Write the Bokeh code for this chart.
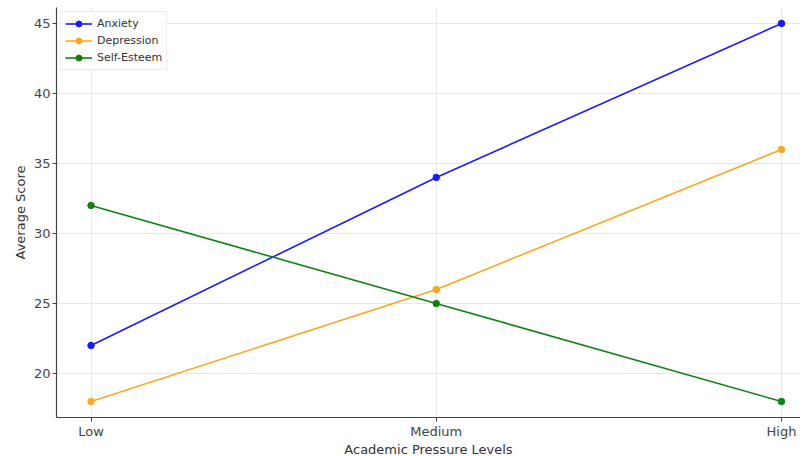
from bokeh.plotting import figure
from bokeh.models import Range1d, FixedTicker, Legend, LegendItem
from bokeh.embed import file_html
from bokeh.resources import INLINE

categories = ["Low", "Medium", "High"]
anxiety = [22, 34, 45]
depression = [18, 26, 36]
self_esteem = [32, 25, 18]
y_ticks = [20, 25, 30, 35, 40, 45]

xs = list(range(len(categories)))

p = figure(frame_width=744, frame_height=410, output_backend="svg", toolbar_location=None,
           x_range=Range1d(-0.1, 2.055), y_range=Range1d(16.857, 46.14),
           min_border_left=56, min_border_right=0, min_border_top=7, min_border_bottom=30)
p.outline_line_color = None
p.background_fill_color = "white"

font = "DejaVu Sans"
for ax in (p.xaxis[0], p.yaxis[0]):
    ax.major_label_text_font = font
    ax.major_label_text_font_size = "13px"
    ax.major_label_text_color = "#444444"
    ax.axis_label_text_font = font
    ax.axis_label_text_font_size = "13px"
    ax.axis_label_text_font_style = "normal"
    ax.axis_label_text_color = "#333333"
    ax.axis_line_color = "#444444"
    ax.axis_line_width = 1.2
    ax.major_tick_line_color = "#444444"
    ax.major_tick_out = 4
    ax.major_tick_in = 0
    ax.minor_tick_line_color = None

p.xaxis.ticker = FixedTicker(ticks=xs)
p.xaxis.major_label_overrides = {i: c for i, c in enumerate(categories)}
p.xaxis.axis_label = "Academic Pressure Levels"
p.xaxis.axis_label_standoff = 0
p.xaxis.major_label_standoff = 2
p.yaxis.ticker = FixedTicker(ticks=y_ticks)
p.yaxis.axis_label = "Average Score"
p.yaxis.axis_label_standoff = 3
p.yaxis.major_label_standoff = 2

p.xgrid.grid_line_color = "#e8e8e8"
p.ygrid.grid_line_color = "#e8e8e8"
p.xgrid.ticker = FixedTicker(ticks=xs)
p.ygrid.ticker = FixedTicker(ticks=y_ticks)

series = [("Anxiety", anxiety, "#1a1aff"), ("Depression", depression, "#f9a825"),
          ("Self-Esteem", self_esteem, "#118011")]
items = []
for name, vals, col in series:
    l = p.line(xs, vals, line_color=col, line_width=1.6)
    c = p.scatter(xs, vals, size=6.5, fill_color=col, line_color=col)
    items.append(LegendItem(label=name, renderers=[l, c]))

legend = Legend(items=items, location="top_left")
legend.label_text_font = font
legend.label_text_font_size = "11px"
legend.label_text_color = "#333333"
legend.glyph_width = 27
legend.glyph_height = 15
legend.label_height = 15
legend.spacing = 2
legend.padding = 4
legend.margin = 4
legend.border_line_color = "#dddddd"
legend.background_fill_alpha = 0.9
p.add_layout(legend)

open("out.html", "w").write(file_html(p, INLINE))
